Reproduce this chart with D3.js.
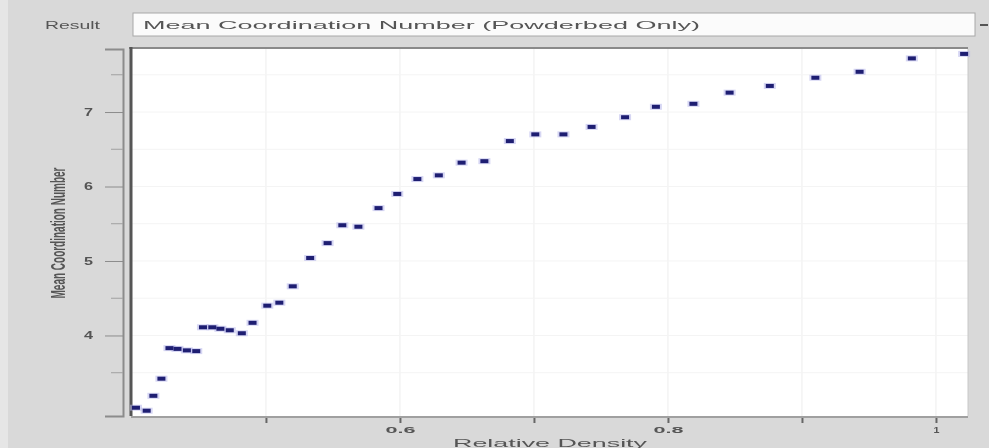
<!DOCTYPE html>
<html>
<head>
<meta charset="utf-8">
<script src="https://cdn.jsdelivr.net/npm/d3@7"></script>
<style>
  html, body { margin: 0; padding: 0; background: #d9d9d9; }
  svg { display: block; filter: blur(0.5px); }
  text { font-family: "Liberation Sans", Arial, sans-serif; fill: #555; }
</style>
</head>
<body>
<svg id="chart"></svg>
<script>
// relative density of each result
var density = [0.403, 0.411, 0.416, 0.422, 0.428, 0.434, 0.441, 0.448,
  0.453, 0.460, 0.466, 0.473, 0.482, 0.490, 0.501, 0.510, 0.520, 0.533,
  0.546, 0.557, 0.569, 0.584, 0.598, 0.613, 0.629, 0.646, 0.663, 0.682,
  0.701, 0.722, 0.743, 0.768, 0.791, 0.819, 0.846, 0.876, 0.910, 0.943,
  0.982, 1.021];

// mean coordination number
var coordination = [3.03, 2.99, 3.19, 3.42, 3.83, 3.82, 3.80, 3.79,
  4.11, 4.11, 4.09, 4.07, 4.03, 4.17, 4.40, 4.44, 4.66, 5.04,
  5.24, 5.48, 5.46, 5.71, 5.90, 6.10, 6.15, 6.32, 6.34, 6.61,
  6.70, 6.70, 6.80, 6.93, 7.07, 7.11, 7.26, 7.35, 7.46, 7.54,
  7.72, 7.78];

var xTicks = [0.5, 0.6, 0.7, 0.8, 0.9, 1.0];
var xLabels = ["", "0.6", "", "0.8", "", "1"];
var yTicks = [4, 5, 6, 7];
var yMinorTicks = [3.5, 4.5, 5.5, 6.5, 7.5];

var resultLabel = "Result";
var resultName = "Mean Coordination Number (Powderbed Only)";
var xTitle = "Relative Density";
var yTitle = "Mean Coordination Number";

var width = 989;
var height = 448;

var svg = d3.select('#chart')
  .attr("width", width)
  .attr("height", height);

// window background
svg.append("rect")
  .attr("width", width).attr("height", height)
  .attr("fill", "#d9d9d9");
svg.append("rect")
  .attr("x", 0).attr("y", 0).attr("width", 8).attr("height", height)
  .attr("fill", "#e6e6e6");

// result selector on top
svg.append("text")
  .attr("x", 45).attr("y", 29)
  .attr("font-size", 11)
  .attr("fill", "#4a4a4a")
  .attr("textLength", 55)
  .attr("lengthAdjust", "spacingAndGlyphs")
  .text(resultLabel);

svg.append("rect")
  .attr("x", 133).attr("y", 13).attr("width", 842).attr("height", 23)
  .attr("fill", "#fbfbfb")
  .attr("stroke", "#a8a8a8");
svg.append("text")
  .attr("x", 143).attr("y", 29)
  .attr("font-size", 11)
  .attr("fill", "#666")
  .attr("textLength", 557)
  .attr("lengthAdjust", "spacingAndGlyphs")
  .text(resultName);
svg.append("line")
  .attr("x1", 980).attr("x2", 988).attr("y1", 25).attr("y2", 25)
  .attr("stroke", "#555").attr("stroke-width", 2);

// plot area
var plotLeft = 131, plotRight = 968, plotTop = 49, plotBottom = 416;

var x = d3.scaleLinear().domain([0.3993, 1.0239]).range([plotLeft, plotRight]);
var y = d3.scaleLinear().domain([2.919, 7.846]).range([plotBottom, plotTop]);

svg.append("rect")
  .attr("x", plotLeft).attr("y", plotTop)
  .attr("width", plotRight - plotLeft).attr("height", plotBottom - plotTop)
  .attr("fill", "#ffffff");

// faint grid
svg.append("g")
  .selectAll("line")
  .data(xTicks)
  .join("line")
  .attr("x1", d => x(d)).attr("x2", d => x(d))
  .attr("y1", plotTop).attr("y2", plotBottom)
  .attr("stroke", "#ededed");

svg.append("g")
  .selectAll("line")
  .data(yTicks.concat(yMinorTicks))
  .join("line")
  .attr("x1", plotLeft).attr("x2", plotRight)
  .attr("y1", d => y(d)).attr("y2", d => y(d))
  .attr("stroke", "#f4f4f4");

// frame
svg.append("line")
  .attr("x1", plotLeft - 2).attr("x2", plotRight)
  .attr("y1", plotTop - 1).attr("y2", plotTop - 1)
  .attr("stroke", "#8a8a8a").attr("stroke-width", 2);
svg.append("line")
  .attr("x1", plotLeft).attr("x2", plotLeft)
  .attr("y1", plotTop - 2).attr("y2", plotBottom)
  .attr("stroke", "#555").attr("stroke-width", 3);
svg.append("line")
  .attr("x1", plotLeft).attr("x2", plotRight)
  .attr("y1", plotBottom + 1).attr("y2", plotBottom + 1)
  .attr("stroke", "#a0a0a0").attr("stroke-width", 2);
svg.append("line")
  .attr("x1", plotRight).attr("x2", plotRight)
  .attr("y1", plotTop).attr("y2", plotBottom)
  .attr("stroke", "#c8c8c8");

// y axis
var yAxis = svg.append("g")
  .attr("transform", "translate(123,0)")
  .call(d3.axisLeft(y).tickValues(yTicks).tickSize(18).tickPadding(12)
    .tickFormat(d3.format("d")));
yAxis.select(".domain").attr("stroke", "#8c8c8c").attr("stroke-width", 2);
yAxis.selectAll(".tick line").attr("stroke", "#8c8c8c");
yAxis.selectAll(".tick text")
  .attr("font-size", 10)
  .attr("font-weight", "bold")
  .attr("fill", "#555")
  .attr("font-family", "Liberation Sans, Arial, sans-serif")
  .attr("textLength", 9)
  .attr("lengthAdjust", "spacingAndGlyphs");

svg.append("g")
  .selectAll("line")
  .data(yMinorTicks)
  .join("line")
  .attr("x1", 111).attr("x2", 123)
  .attr("y1", d => y(d)).attr("y2", d => y(d))
  .attr("stroke", "#a0a0a0");

// x axis
var xAxis = svg.append("g")
  .attr("transform", "translate(0," + (plotBottom + 2) + ")")
  .call(d3.axisBottom(x).tickValues(xTicks).tickSize(5).tickPadding(4)
    .tickFormat((d, i) => xLabels[i]));
xAxis.select(".domain").remove();
xAxis.selectAll(".tick line").attr("stroke", "#666").attr("stroke-width", 2);
xAxis.selectAll(".tick text")
  .attr("font-size", 9)
  .attr("font-weight", "bold")
  .attr("fill", "#666")
  .attr("font-family", "Liberation Sans, Arial, sans-serif")
  .filter(d => xLabels[xTicks.indexOf(d)] !== "")
  .attr("textLength", d => xLabels[xTicks.indexOf(d)].length > 1 ? 30 : 6)
  .attr("lengthAdjust", "spacingAndGlyphs");

// axis titles
svg.append("text")
  .attr("x", 550).attr("y", 447)
  .attr("text-anchor", "middle")
  .attr("font-size", 11)
  .attr("fill", "#555")
  .attr("textLength", 194)
  .attr("lengthAdjust", "spacingAndGlyphs")
  .text(xTitle);

svg.append("text")
  .attr("transform", "translate(58,233) scale(2,1) rotate(-90)")
  .attr("text-anchor", "middle")
  .attr("dominant-baseline", "central")
  .attr("font-size", 10)
  .attr("font-weight", "bold")
  .attr("fill", "#666")
  .text(yTitle);

// points
var points = density.map((d, i) => ({ x: d, y: coordination[i] }));

svg.append("g")
  .selectAll("rect")
  .data(points)
  .join("rect")
  .attr("x", d => x(d.x) - 6)
  .attr("y", d => y(d.y) - 3)
  .attr("width", 12)
  .attr("height", 6)
  .attr("fill", "#b4b4ea")
  .attr("opacity", 0.55);

svg.append("g")
  .selectAll("rect")
  .data(points)
  .join("rect")
  .attr("class", "dataset")
  .attr("x", d => x(d.x) - 4)
  .attr("y", d => y(d.y) - 2)
  .attr("width", 8)
  .attr("height", 4)
  .attr("fill", "#1e1e72");
</script>
</body>
</html>
